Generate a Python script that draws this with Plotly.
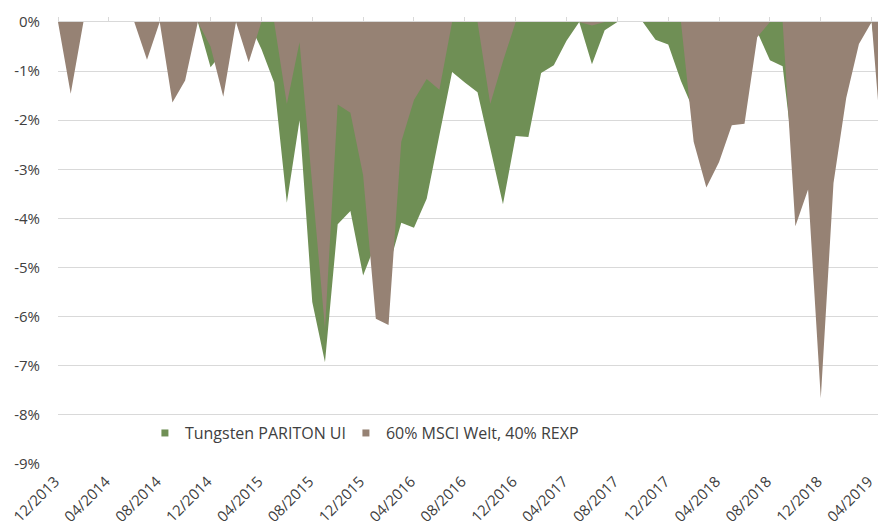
import plotly.graph_objects as go
import pandas as pd

# Monthly categories 12/2013 .. 05/2019
months = [p.strftime("%m/%Y") for p in pd.period_range("2013-12", "2019-05", freq="M")]

# Drawdown values in %
fund = [0, 0, 0, 0, 0, 0, 0, 0, 0, 0, 0, 0,
        -0.92, -0.6, 0, 0, -0.55, -1.23, -3.68, -2.0, -5.7, -6.93,
        -4.12, -3.85, -5.16, -4.5, -5.0, -4.09, -4.19, -3.6, -2.3, -1.02,
        -1.23, -1.43, -2.57, -3.71, -2.32, -2.34, -1.04, -0.88, -0.38, 0,
        -0.86, -0.17, 0, 0, 0, -0.36, -0.46, -1.2, -1.8, -1.9,
        -1.5, -1.2, -0.7, -0.2, -0.78, -0.9, -3.1, -2.8, -3.0, -2.5,
        -1.2, -0.3, 0, -2.0]
bench = [0, -1.46, 0, 0, 0, 0, 0, -0.77, 0, -1.64, -1.19, 0,
         -0.5, -1.52, 0, -0.82, 0, 0, -1.67, -0.41, -3.3, -6.24,
         -1.68, -1.85, -3.12, -6.04, -6.17, -2.44, -1.59, -1.16, -1.38, 0,
         0, 0, -1.67, -0.8, 0, 0, 0, 0, 0, 0,
         -0.07, 0, 0, 0, 0, 0, 0, 0, -2.44, -3.37,
         -2.85, -2.1, -2.07, -0.31, 0, 0, -4.16, -3.41, -7.66, -3.28,
         -1.55, -0.45, 0, -3.2]

series_names = ["Tungsten PARITON UI", "60% MSCI Welt, 40% REXP"]
colors = ["#6f8f55", "#968274"]

y_ticks = [0, -1, -2, -3, -4, -5, -6, -7, -8, -9]
y_ticktext = [f"{v}%" for v in y_ticks]
x_ticks = months[::4]

FONT = "Open Sans"
TXT = "#404040"
GRID = "#d9d9d9"
FS = 15

fig = go.Figure()
for vals, name, col in zip([fund, bench], series_names, colors):
    fig.add_trace(go.Scatter(x=months, y=vals, mode="lines", fill="tozeroy",
                             line=dict(width=0, color=col), fillcolor=col,
                             showlegend=False, hoverinfo="x+y+name", name=name))
# legend entries (square keys)
for name, col, lw in zip(series_names, colors, [156, 210]):
    fig.add_trace(go.Scatter(x=[None], y=[None], mode="markers", name=name,
                             legendwidth=lw,
                             marker=dict(symbol="square", size=7, color=col)))
# helper trace for the top axis with tick marks at 0
fig.add_trace(go.Scatter(x=months, y=[None] * len(months), xaxis="x2",
                         showlegend=False, hoverinfo="skip"))

fig.update_layout(
    width=878, height=529,
    margin=dict(l=58, r=0, t=22, b=65),
    paper_bgcolor="white", plot_bgcolor="white",
    font=dict(family=FONT, size=FS, color=TXT),
    xaxis=dict(type="category", categoryorder="array", categoryarray=months,
               range=[0, 64.5], tickvals=x_ticks, ticktext=x_ticks,
               tickangle=-45, showgrid=False, zeroline=False, showline=False,
               ticks="", ticklabelstandoff=5, ticklabelshift=-3,
               automargin=False, tickfont=dict(size=FS, color=TXT)),
    xaxis2=dict(type="category", categoryorder="array", categoryarray=months,
                overlaying="x", side="top", range=[0, 64.5], tickvals=x_ticks,
                showticklabels=False, ticks="outside", ticklen=4,
                tickcolor=GRID, showline=True, linecolor=GRID, linewidth=1,
                showgrid=False, zeroline=False, automargin=False),
    yaxis=dict(range=[-9, 0], tickvals=y_ticks, ticktext=y_ticktext,
               showgrid=True, gridcolor=GRID, gridwidth=1.3, zeroline=False,
               showline=False, ticks="", ticklabelstandoff=17, automargin=False,
               tickfont=dict(size=FS, color=TXT)),
    legend=dict(orientation="h", x=0.106, y=0.07, xanchor="left",
                yanchor="middle", font=dict(size=16, color=TXT),
                bgcolor="rgba(0,0,0,0)", itemwidth=30),
    hovermode="x",
)

fig.write_html("out.html", config={"displayModeBar": False},
               post_script="document.body.style.margin='0px';")
